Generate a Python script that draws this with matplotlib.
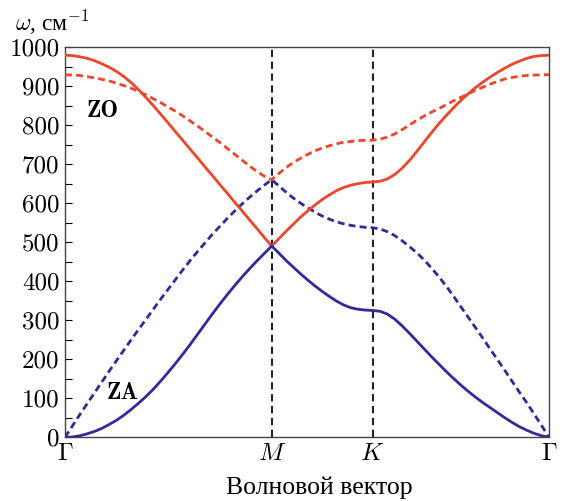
import numpy as np
import matplotlib.pyplot as plt

plt.rcParams['mathtext.fontset'] = 'cm'
plt.rcParams['font.family'] = ['cmr10', 'Liberation Serif']
plt.rcParams['axes.unicode_minus'] = False

# high-symmetry points along the path
node_pos = [0.0, 2.05, 3.05, 4.80]
node_lbl = [r'$\Gamma$', r'$M$', r'$K$', r'$\Gamma$']

# wave-vector positions where values were read: G-M (29 pts), M-K (15), K-G (25)
k = np.concatenate([np.linspace(0.0, 2.05, 29),
                    np.linspace(2.05, 3.05, 15)[1:],
                    np.linspace(3.05, 4.80, 25)[1:]])

za_solid = [0, 1, 4, 9, 15, 23, 33, 44, 57, 72, 88, 105, 124, 145, 167,
            190, 214, 239, 265, 291, 317, 342, 366, 389, 411, 432, 452, 471, 490,
            472, 453, 436, 419, 403, 388, 374, 361, 349, 339, 332, 328, 326, 325,
            323, 316, 303, 286, 267, 247, 227, 207, 188, 169, 151, 134, 118,
            103, 89, 76, 63, 50, 38, 27, 18, 10, 4, 0]
za_dash = [0, 29, 58, 86, 114, 142, 170, 197, 224, 251, 277, 303, 329, 355, 380,
           405, 430, 454, 477, 499, 521, 541, 561, 580, 598, 615, 631, 646, 660,
           644, 628, 613, 600, 588, 577, 567, 559, 552, 547, 543, 540, 538, 537,
           534, 527, 517, 504, 489, 473, 455, 434, 412, 388, 362, 335, 308,
           281, 254, 226, 199, 171, 143, 115, 88, 59, 30, 0]
zo_solid = [979, 978, 975, 971, 965, 957, 948, 937, 924, 908, 890, 870, 849, 827, 805,
            782, 760, 737, 715, 692, 670, 647, 625, 602, 580, 557, 535, 512, 490,
            509, 528, 546, 564, 580, 595, 609, 621, 632, 640, 646, 650, 653, 654,
            656, 662, 673, 689, 709, 732, 756, 780, 803, 824, 844, 863, 880,
            896, 910, 923, 935, 946, 956, 964, 971, 976, 978, 979]
zo_dash = [929, 928, 927, 924, 921, 917, 913, 907, 901, 894, 886, 877, 867, 857, 846,
           835, 823, 810, 797, 783, 769, 755, 740, 725, 710, 695, 681, 669, 660,
           676, 691, 704, 715, 725, 734, 741, 747, 752, 756, 758, 760, 761, 761,
           764, 769, 777, 788, 800, 812, 823, 833, 842, 852, 862, 871, 880,
           889, 897, 905, 912, 918, 922, 925, 927, 928, 929, 929]

red = '#f0452a'
blue = '#35289a'

fig = plt.figure(figsize=(5.64, 5.01), dpi=100)
ax = fig.add_axes([0.1152, 0.1271, 0.8582, 0.7791])

for x in node_pos[1:3]:
    ax.plot([x, x], [0, 1000], color='#222222', lw=1.5, ls=(0, (3.5, 2.2)), zorder=1)

ax.plot(k, zo_dash, color=red, lw=2.0, ls=(0, (2.5, 1.5)), zorder=3)
ax.plot(k, za_dash, color=blue, lw=2.0, ls=(0, (2.5, 1.5)), zorder=3)
ax.plot(k, zo_solid, color=red, lw=2.0, zorder=4)
ax.plot(k, za_solid, color=blue, lw=2.0, zorder=4)

ax.set_xlim(node_pos[0], node_pos[-1])
ax.set_ylim(0, 1000)
ax.set_xticks(node_pos)
ax.set_xticklabels(node_lbl, fontsize=18)
ax.set_yticks(np.arange(0, 1001, 100))
ax.set_yticks(np.arange(0, 1001, 50), minor=True)
ax.tick_params(axis='y', which='both', direction='in', length=5, width=0.8,
               labelsize=18, pad=4)
ax.tick_params(axis='x', length=0, pad=4)
for s in ax.spines.values():
    s.set_color('#444444')
    s.set_linewidth(1.0)

ax.text(0.22, 835, 'ZO', family='cmb10', fontsize=17, va='center', ha='left')
ax.text(0.41, 114, 'ZA', family='cmb10', fontsize=17, va='center', ha='left')

fig.text(0.027, 0.955, r'$\omega$, см$^{-1}$', fontsize=17, ha='left', va='center',
         family=['Liberation Serif'])
fig.text(0.566, 0.026, 'Волновой вектор', fontsize=18.5, ha='center', va='center',
         family=['Liberation Serif'])

fig.savefig('out.png', dpi=100)
